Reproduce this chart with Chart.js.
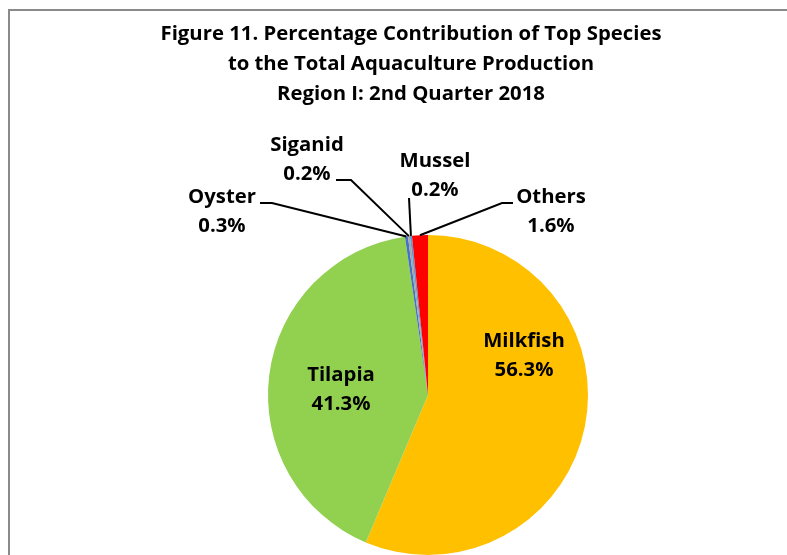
<!DOCTYPE html>
<html>
<head>
<meta charset="utf-8">
<script src="https://cdn.jsdelivr.net/npm/chart.js@4.4.1/dist/chart.umd.min.js"></script>
<style>
  html, body { margin: 0; padding: 0; background: #fff; overflow: hidden; }
  #wrap { position: relative; width: 787px; height: 555px; }
  #frame { position: absolute; left: 8px; top: 9px; width: 800px; height: 560px;
           border-left: 2px solid #8a8a8a; border-top: 2px solid #8a8a8a; box-sizing: border-box; }
  canvas { position: absolute; left: 0; top: 0; }
</style>
</head>
<body>
<div id="wrap">
  <div id="frame"></div>
  <canvas id="c" width="787" height="555"></canvas>
</div>
<script>
// ---- data ----
const categories = ['Milkfish', 'Tilapia', 'Oyster', 'Siganid', 'Mussel', 'Others'];
const shares = [56.3, 41.3, 0.3, 0.2, 0.2, 1.6];
const shareLabels = ['56.3%', '41.3%', '0.3%', '0.2%', '0.2%', '1.6%'];
const titleLines = [
  'Figure 11. Percentage Contribution of Top Species',
  'to the Total Aquaculture Production',
  'Region I: 2nd Quarter 2018'
];
const sliceColors = ['#FFC000', '#92D050', '#4472C4', '#A5A5A5', '#5B9BD5', '#FF0000'];

// label layout, offsets relative to pie centre (px)
const labelLayout = [
  { dx: 96, dy: -41 },                                   // Milkfish (inside)
  { dx: -87, dy: -6.5 },                                 // Tilapia (inside)
  { dx: -206, dy: -185, line: [[-156, -192], [-168, -192]] }, // Oyster
  { dx: -121, dy: -237, line: [[-77, -215], [-92, -215]] },   // Siganid
  { dx: 7, dy: -220.5, line: [[-19, -197]] },                 // Mussel
  { dx: 123, dy: -184.5, line: [[74, -192], [85, -192]] }     // Others
];

const FONT = 'bold 19px "Open Sans", Lato, sans-serif';
const LINE_GAP = 29;
const TEXT_NUDGE = 2;
let sx = 1;

function drawText(ctx, txt, x, y) {
  ctx.save();
  ctx.translate(x, y + TEXT_NUDGE);
  ctx.scale(sx, 1);
  ctx.fillText(txt, 0, 0);
  ctx.restore();
}

const labelPlugin = {
  id: 'labels',
  afterDraw(chart) {
    const ctx = chart.ctx;
    ctx.save();
    ctx.font = FONT;
    const w = ctx.measureText(titleLines[0]).width;
    sx = Math.max(0.8, Math.min(1.1, 501 / w));
    ctx.fillStyle = '#000';
    ctx.textAlign = 'center';
    ctx.textBaseline = 'middle';
    // title
    titleLines.forEach((t, i) => drawText(ctx, t, 411, 33 + i * 30));

    const meta = chart.getDatasetMeta(0);
    meta.data.forEach((arc, i) => {
      const p = arc.getProps(['x', 'y', 'startAngle', 'endAngle', 'outerRadius'], true);
      const cx = p.x, cy = p.y;
      const L = labelLayout[i];
      if (L.line) {
        const mid = (p.startAngle + p.endAngle) / 2;
        const sxp = cx + p.outerRadius * Math.cos(mid);
        const syp = cy + p.outerRadius * Math.sin(mid);
        ctx.strokeStyle = '#000';
        ctx.lineWidth = 2;
        ctx.beginPath();
        ctx.moveTo(sxp, syp);
        L.line.forEach(pt => ctx.lineTo(cx + pt[0], cy + pt[1]));
        ctx.stroke();
      }
      const tx = cx + L.dx, ty = cy + L.dy;
      drawText(ctx, categories[i], tx, ty - LINE_GAP / 2);
      drawText(ctx, shareLabels[i], tx, ty + LINE_GAP / 2);
    });
    ctx.restore();
  }
};

new Chart(document.getElementById('c'), {
  type: 'pie',
  data: {
    labels: categories,
    datasets: [{
      data: shares,
      backgroundColor: sliceColors,
      borderWidth: 0
    }]
  },
  options: {
    responsive: false,
    animation: false,
    layout: { padding: { left: 268, right: 199, top: 235, bottom: 0 } },
    plugins: {
      legend: { display: false },
      tooltip: { enabled: false },
      title: { display: false }
    }
  },
  plugins: [labelPlugin]
});
</script>
</body>
</html>
